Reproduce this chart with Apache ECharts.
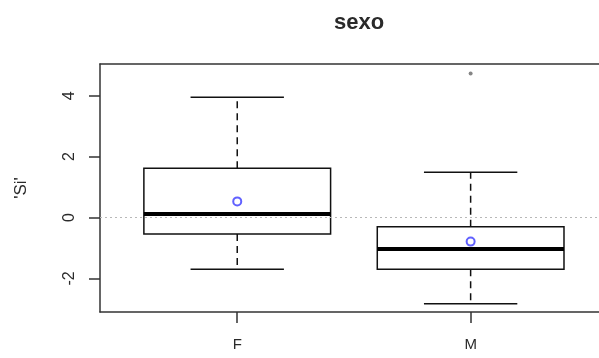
<!DOCTYPE html>
<html>
<head>
<meta charset="utf-8">
<script src="https://cdn.jsdelivr.net/npm/echarts@6/dist/echarts.min.js"></script>
<style>html,body{margin:0;padding:0;background:#fff;}#c{width:599px;height:358px;}</style>
</head>
<body>
<div id="c"></div>
<script>
const categories = ['F', 'M'];
const positions = [1, 2];
const whiskerLow = [-1.70, -2.83];
const q1 = [-0.54, -1.70];
const median = [0.12, -1.03];
const q3 = [1.62, -0.30];
const whiskerHigh = [3.95, 1.49];
const means = [0.53, -0.79];
const outlierPos = [2];
const outlierVal = [4.73];
const yTicks = [-2, 0, 2, 4];

const boxData = positions.map((p, i) => [p, whiskerLow[i], q1[i], median[i], q3[i], whiskerHigh[i]]);
const meanData = positions.map((p, i) => [p, means[i]]);
const outData = outlierPos.map((p, i) => [p, outlierVal[i]]);

const chart = echarts.init(document.getElementById('c'), null, {renderer: 'canvas'});
const txt = '#2a2a2a';
const axisCol = '#333';
chart.setOption({
  animation: false,
  title: {
    text: 'sexo', left: 354, top: 7, textAlign: 'center',
    textStyle: {fontFamily: 'Liberation Sans', fontWeight: 'bold', fontSize: 22, color: txt}
  },
  grid: {left: 100, top: 64, right: 0, height: 248},
  xAxis: [{
    type: 'value', min: 0.412, max: 2.55, position: 'bottom',
    splitLine: {show: false},
    axisLine: {show: true, onZero: false, lineStyle: {color: axisCol, width: 1.5}},
    axisTick: {show: true, length: 11, customValues: positions, lineStyle: {color: axisCol, width: 1.5}},
    axisLabel: {customValues: positions, margin: 25, fontFamily: 'Liberation Sans', fontSize: 15, color: txt,
      formatter: v => categories[positions.indexOf(Math.round(v))]}
  }, {
    type: 'value', min: 0.412, max: 2.55, position: 'top',
    splitLine: {show: false},
    axisLine: {show: true, onZero: false, lineStyle: {color: axisCol, width: 1.5}},
    axisTick: {show: false}, axisLabel: {show: false}
  }],
  yAxis: {
    type: 'value', min: -3.1, max: 5.04,
    name: "'Si'", nameLocation: 'middle', nameRotate: 90, nameGap: 70,
    nameTextStyle: {fontFamily: 'Liberation Sans', fontSize: 17, color: txt},
    splitLine: {show: false},
    axisLine: {show: true, onZero: false, lineStyle: {color: axisCol, width: 1.5}},
    axisTick: {show: true, length: 11, customValues: yTicks, lineStyle: {color: axisCol, width: 1.5}},
    axisLabel: {customValues: yTicks, rotate: 90, margin: 22, fontFamily: 'Liberation Sans', fontSize: 16, color: txt}
  },
  series: [
    {
      type: 'custom',
      data: boxData,
      encode: {x: 0, y: [1, 2, 3, 4, 5]},
      renderItem: function (params, api) {
        const x = api.value(0);
        const pLow = api.coord([x, api.value(1)]);
        const pQ1 = api.coord([x, api.value(2)]);
        const pMed = api.coord([x, api.value(3)]);
        const pQ3 = api.coord([x, api.value(4)]);
        const pHigh = api.coord([x, api.value(5)]);
        const halfBox = (api.coord([x + 0.4, 0])[0] - api.coord([x, 0])[0]);
        const halfCap = halfBox / 2;
        const cx = pMed[0];
        const solid = {stroke: '#111', lineWidth: 1.5, fill: null};
        const dashed = {stroke: '#111', lineWidth: 1.5, lineDash: [7, 5], fill: null};
        return {
          type: 'group',
          children: [
            {type: 'line', shape: {x1: cx, y1: pQ3[1], x2: cx, y2: pHigh[1]}, style: dashed},
            {type: 'line', shape: {x1: cx, y1: pQ1[1], x2: cx, y2: pLow[1]}, style: dashed},
            {type: 'line', shape: {x1: cx - halfCap, y1: pHigh[1], x2: cx + halfCap, y2: pHigh[1]}, style: solid},
            {type: 'line', shape: {x1: cx - halfCap, y1: pLow[1], x2: cx + halfCap, y2: pLow[1]}, style: solid},
            {type: 'rect', shape: {x: cx - halfBox, y: pQ3[1], width: 2 * halfBox, height: pQ1[1] - pQ3[1]}, style: {stroke: '#111', lineWidth: 1.5, fill: 'rgba(255,255,255,0)'}},
            {type: 'line', shape: {x1: cx - halfBox, y1: pMed[1], x2: cx + halfBox, y2: pMed[1]}, style: {stroke: '#000', lineWidth: 4}}
          ]
        };
      },
      markLine: {
        silent: true, symbol: 'none', label: {show: false}, z: 10,
        emphasis: {disabled: true},
        lineStyle: {color: '#b8b8b8', type: [2, 3], width: 1},
        data: [{yAxis: 0}]
      },
      z: 2
    },
    {
      type: 'scatter', data: meanData, symbol: 'circle', symbolSize: 8, z: 5,
      itemStyle: {color: '#fff', borderColor: '#3a3aff', borderWidth: 2}
    },
    {
      type: 'scatter', data: outData, symbol: 'circle', symbolSize: 4, z: 5,
      itemStyle: {color: '#666', borderColor: '#666', borderWidth: 0}
    }
  ]
});
</script>
</body>
</html>
